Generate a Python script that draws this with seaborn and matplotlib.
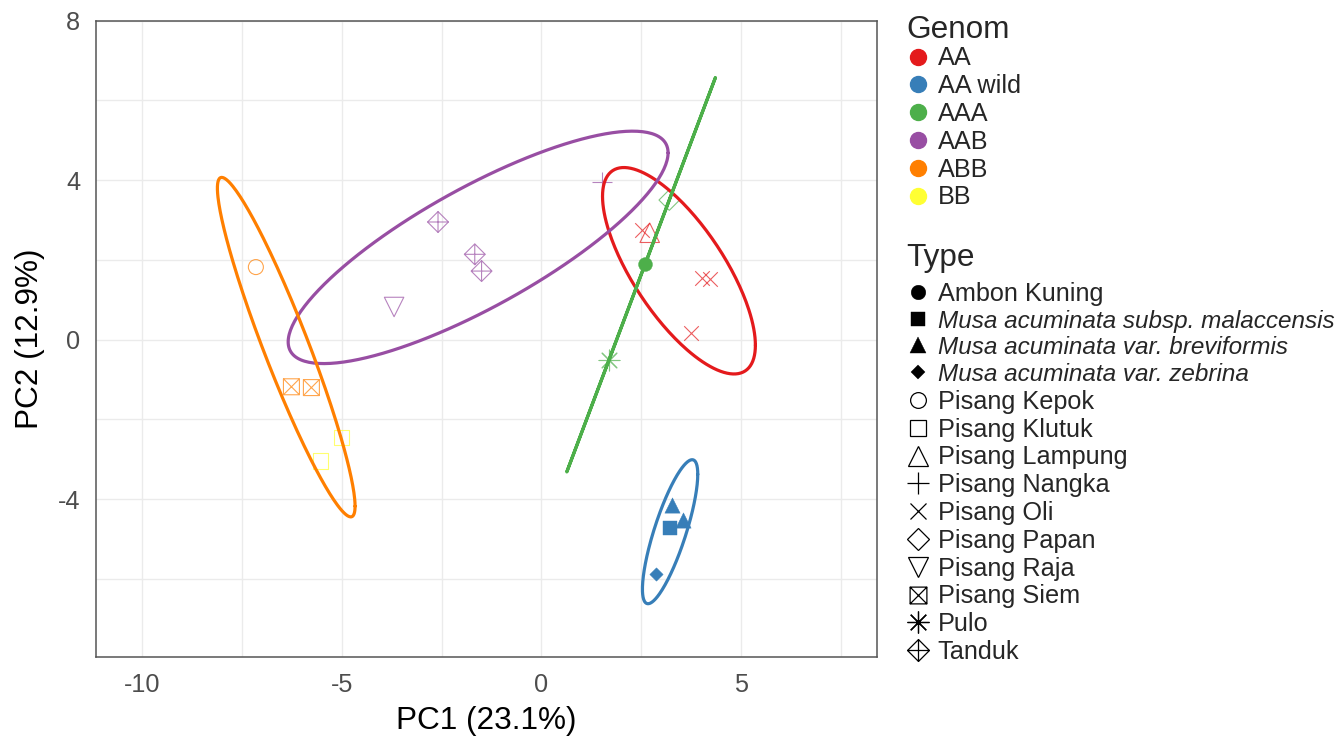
import numpy as np
import pandas as pd
import matplotlib
matplotlib.use("Agg")
import matplotlib.pyplot as plt
from matplotlib.path import Path
from matplotlib.lines import Line2D
import seaborn as sns

# ---------------- data ----------------
genom_levels = ["AA", "AA wild", "AAA", "AAB", "ABB", "BB"]
genom_colors = ["#E41A1C", "#377EB8", "#4DAF4A", "#984EA3", "#FF7F00", "#FFFF33"]

type_levels = ["Ambon Kuning",
               "Musa acuminata subsp. malaccensis",
               "Musa acuminata var. breviformis",
               "Musa acuminata var. zebrina",
               "Pisang Kepok", "Pisang Klutuk", "Pisang Lampung", "Pisang Nangka",
               "Pisang Oli", "Pisang Papan", "Pisang Raja", "Pisang Siem",
               "Pulo", "Tanduk"]
italic_types = ["Musa acuminata subsp. malaccensis",
                "Musa acuminata var. breviformis",
                "Musa acuminata var. zebrina"]

pc1 = [2.51, 2.71, 4.03, 4.22, 3.74,
       3.26, 3.55, 3.21, 2.86,
       2.59, 3.20, 1.69,
       -2.59, -1.67, -1.50, -3.69, 1.52,
       -7.15, -6.26, -5.76,
       -5.00, -5.53]
pc2 = [2.74, 2.68, 1.55, 1.51, 0.16,
       -4.15, -4.52, -4.72, -5.86,
       1.885, 3.50, -0.51,
       2.95, 2.14, 1.72, 0.82, 3.94,
       1.82, -1.18, -1.20,
       -2.45, -3.04]
genom = ["AA"] * 5 + ["AA wild"] * 4 + ["AAA"] * 3 + ["AAB"] * 5 + ["ABB"] * 3 + ["BB"] * 2
cultivar = ["Pisang Oli", "Pisang Lampung", "Pisang Oli", "Pisang Oli", "Pisang Oli",
            "Musa acuminata var. breviformis", "Musa acuminata var. breviformis",
            "Musa acuminata subsp. malaccensis", "Musa acuminata var. zebrina",
            "Ambon Kuning", "Pisang Papan", "Pulo",
            "Tanduk", "Tanduk", "Tanduk", "Pisang Raja", "Pisang Nangka",
            "Pisang Kepok", "Pisang Siem", "Pisang Siem",
            "Pisang Klutuk", "Pisang Klutuk"]

x_ticks = [-10, -5, 0, 5]
y_ticks = [-4, 0, 4, 8]
x_label = "PC1 (23.1%)"
y_label = "PC2 (12.9%)"

df = pd.DataFrame({"PC1": pc1, "PC2": pc2, "Genom": genom, "Type": cultivar})
palette = dict(zip(genom_levels, genom_colors))

# ---------------- marker styles ----------------
siem_path = Path([(-1, -1), (1, -1), (1, 1), (-1, 1), (-1, -1),
                  (-1, -1), (1, 1), (-1, 1), (1, -1)],
                 [Path.MOVETO, Path.LINETO, Path.LINETO, Path.LINETO, Path.CLOSEPOLY,
                  Path.MOVETO, Path.LINETO, Path.MOVETO, Path.LINETO])
tanduk_path = Path([(0, -1), (1, 0), (0, 1), (-1, 0), (0, -1),
                    (-1, 0), (1, 0), (0, -1), (0, 1)],
                   [Path.MOVETO, Path.LINETO, Path.LINETO, Path.LINETO, Path.CLOSEPOLY,
                    Path.MOVETO, Path.LINETO, Path.MOVETO, Path.LINETO])

# marker, size (pt), kind ('fill', 'open', 'line')
mstyle = {
    "Ambon Kuning": ("o", 10.0, "fill"),
    "Musa acuminata subsp. malaccensis": ("s", 9.4, "fill"),
    "Musa acuminata var. breviformis": ("^", 11.0, "fill"),
    "Musa acuminata var. zebrina": ("D", 6.8, "fill"),
    "Pisang Kepok": ("o", 10.8, "open"),
    "Pisang Klutuk": ("s", 11.0, "open"),
    "Pisang Lampung": ("^", 14.0, "open"),
    "Pisang Nangka": ("+", 15.0, "line"),
    "Pisang Oli": ("x", 10.5, "line"),
    "Pisang Papan": ("D", 10.5, "open"),
    "Pisang Raja": ("v", 14.0, "open"),
    "Pisang Siem": (siem_path, 11.5, "open"),
    "Pulo": ((8, 2, 0), 15.0, "line"),
    "Tanduk": (tanduk_path, 15.0, "open"),
}

# ---------------- figure ----------------
W, H = 1342, 737
sns.set_style("white")
plt.rcParams["font.family"] = ["Liberation Sans", "DejaVu Sans"]
plt.rcParams["axes.unicode_minus"] = False
fig = plt.figure(figsize=(W / 100, H / 100), dpi=100)
ax = fig.add_axes([95.7 / W, (H - 657.3) / H, (877 - 95.7) / W, (657.3 - 20.5) / H])

ax.set_xlim(-11.16, 8.40)
ax.set_ylim(-7.96, 8.0)

# grid (major + minor)
ax.set_xticks(x_ticks)
ax.set_yticks(y_ticks)
ax.set_xticks([-7.5, -2.5, 2.5, 7.5], minor=True)
ax.set_yticks([-6, -2, 2, 6], minor=True)
ax.grid(True, which="both", color="#ebebeb", lw=1.0, zorder=0)
ax.set_axisbelow(True)
ax.tick_params(axis="both", which="minor", length=0)
ax.tick_params(axis="both", which="major", direction="out", length=5.5, width=1.0,
               color="#333333", labelsize=18.2, labelcolor="#4d4d4d", pad=5.5)
for sp in ax.spines.values():
    sp.set_color("#555555")
    sp.set_linewidth(1.1)

# points
for t in type_levels:
    m, sz, kind = mstyle[t]
    for g in genom_levels:
        sub = df[(df["Type"] == t) & (df["Genom"] == g)]
        if sub.empty:
            continue
        col = palette[g]
        if kind == "fill":
            sns.scatterplot(data=sub, x="PC1", y="PC2", ax=ax, marker=m, s=sz ** 2,
                            color=col, edgecolor=col, linewidth=0.3, legend=False, zorder=3)
        elif kind == "open":
            sns.scatterplot(data=sub, x="PC1", y="PC2", ax=ax, marker=m, s=sz ** 2,
                            color=col, facecolor="none", edgecolor=col, linewidth=0.8,
                            alpha=0.7, legend=False, zorder=3)
        else:
            sns.scatterplot(data=sub, x="PC1", y="PC2", ax=ax, marker=m, s=sz ** 2,
                            color=col, linewidth=0.8, alpha=0.7, legend=False, zorder=3)

# confidence ellipses (normal, 95%) per genome group
ed = np.sqrt(-2 * np.log(1 - 0.95))
theta = np.linspace(0, 2 * np.pi, 241)
circle = np.column_stack([np.cos(theta), np.sin(theta)])
for g in genom_levels:
    sub = df[df["Genom"] == g]
    if len(sub) < 3:
        continue
    X = sub[["PC1", "PC2"]].to_numpy()
    mu = X.mean(axis=0)
    S = np.cov(X, rowvar=False)
    L = np.linalg.cholesky(S)
    E = ed * circle @ L.T + mu
    sns.lineplot(x=E[:, 0], y=E[:, 1], sort=False, estimator=None, ax=ax,
                 color=palette[g], lw=2.3, zorder=4, legend=False)

ax.set_xlabel(x_label, fontsize=22.7, color="black", labelpad=7)
ax.set_ylabel(y_label, fontsize=22.7, color="black", labelpad=9.3)

# ---------------- legends ----------------
h_gen = [Line2D([], [], linestyle="", marker="o", markersize=11.5,
                markerfacecolor=c, markeredgecolor=c) for c in genom_colors]
leg1 = fig.legend(handles=h_gen, labels=genom_levels, title="Genom", loc="upper left",
                  bbox_to_anchor=(906 / W, 1 - 15 / H), frameon=False,
                  fontsize=18.2, title_fontsize=22.7, alignment="left",
                  borderpad=0, borderaxespad=0, handlelength=0.95, handletextpad=0.3,
                  labelspacing=0.15, handleheight=0.7)
leg1._legend_box.sep = 1.0

h_type = []
for t in type_levels:
    m, sz, kind = mstyle[t]
    if kind == "fill":
        h = Line2D([], [], linestyle="", marker=m, markersize=sz * 1.05,
                   markerfacecolor="black", markeredgecolor="black", markeredgewidth=0.3)
    elif kind == "open":
        h = Line2D([], [], linestyle="", marker=m, markersize=sz * 1.05,
                   markerfacecolor="none", markeredgecolor="black", markeredgewidth=0.9)
    else:
        h = Line2D([], [], linestyle="", marker=m, markersize=sz * 1.05,
                   color="black", markeredgewidth=0.9)
    h_type.append(h)
leg2 = fig.legend(handles=h_type, labels=type_levels, title="Type", loc="upper left",
                  bbox_to_anchor=(906 / W, 1 - 243 / H), frameon=False,
                  fontsize=18.2, title_fontsize=22.7, alignment="left",
                  borderpad=0, borderaxespad=0, handlelength=0.95, handletextpad=0.3,
                  labelspacing=0.15, handleheight=0.7)
leg2._legend_box.sep = 6.3
for txt in leg2.get_texts():
    if txt.get_text() in italic_types:
        txt.set_fontstyle("italic")
        txt.set_fontsize(17.5)

fig.savefig("out.png", dpi=100, facecolor="white")
